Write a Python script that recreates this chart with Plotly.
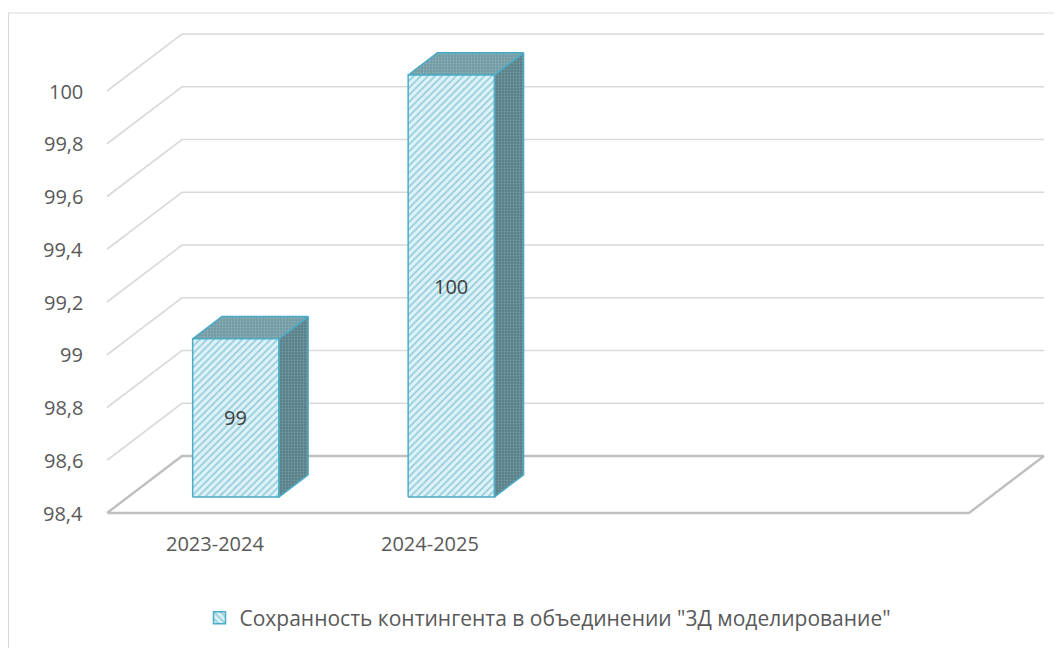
import plotly.graph_objects as go

# ---- data ----
categories = ["2023-2024", "2024-2025"]
values = [99, 100]
series_name = 'Сохранность контингента в объединении "3Д моделирование"'
tick_vals = [98.4, 98.6, 98.8, 99.0, 99.2, 99.4, 99.6, 99.8, 100.0]
tick_text = ["98,4", "98,6", "98,8", "99", "99,2", "99,4", "99,6", "99,8", "100"]
n_slots = 4  # category slots on the axis

# ---- projection settings ----
y_min = 98.4
ddx = 0.348   # depth offset in category units
ddy = 0.216   # depth offset in value units
bar_w = 0.40
f0 = 0.28     # front of bars, as fraction of depth
fd = 0.39     # depth of bars, as fraction of depth

OFF = 8  # page body margin
W, H = 1062 - OFF, 648 - OFF
fig = go.Figure()

grid_col = "#d9d9d9"
floor_col = "#bfbfbf"

# gridlines (side diagonal + back wall horizontal)
for v in tick_vals[1:]:
    fig.add_trace(go.Scatter(
        x=[0, ddx, n_slots + ddx], y=[v, v + ddy, v + ddy],
        mode="lines", line=dict(color=grid_col, width=1.6),
        hoverinfo="skip", showlegend=False))

# floor
fig.add_trace(go.Scatter(
    x=[0, n_slots, n_slots + ddx, ddx, 0],
    y=[y_min, y_min, y_min + ddy, y_min + ddy, y_min],
    mode="lines", line=dict(color=floor_col, width=2.4),
    hoverinfo="skip", showlegend=False))

edge = "#4bacc6"
front_pat = dict(shape="/", fgcolor="#4bacc6", bgcolor="#e0f2f7", size=5, solidity=0.35)
for i, (cat, v) in enumerate(zip(categories, values)):
    c = i + 0.5
    xl = c - bar_w / 2 + f0 * ddx
    xr = c + bar_w / 2 + f0 * ddx
    yb = y_min + f0 * ddy
    yt = v + f0 * ddy
    bx = fd * ddx
    by = fd * ddy
    # side face
    fig.add_trace(go.Scatter(
        x=[xr, xr + bx, xr + bx, xr, xr], y=[yb, yb + by, yt + by, yt, yb],
        mode="lines", fill="toself",
        fillpattern=dict(shape=".", fgcolor="#93b6bf", bgcolor="#5a808a", size=3, solidity=0.3),
        line=dict(color=edge, width=1.5), hoverinfo="skip", showlegend=False))
    # top face
    fig.add_trace(go.Scatter(
        x=[xl, xr, xr + bx, xl + bx, xl], y=[yt, yt, yt + by, yt + by, yt],
        mode="lines", fill="toself",
        fillpattern=dict(shape=".", fgcolor="#abc8cf", bgcolor="#719aa3", size=3, solidity=0.35),
        line=dict(color=edge, width=1.5), hoverinfo="skip", showlegend=False))
    # front face
    fig.add_trace(go.Scatter(
        x=[xl, xr, xr, xl, xl], y=[yb, yb, yt, yt, yb],
        mode="lines", fill="toself",
        fillpattern=front_pat,
        line=dict(color=edge, width=1.5), hoverinfo="skip", showlegend=False))
    # data label
    fig.add_annotation(x=c + f0 * ddx, y=(y_min + v) / 2 + f0 * ddy,
                       text=str(v), showarrow=False,
                       font=dict(family="Open Sans", size=20, color="#404040"))
    # category label
    fig.add_annotation(x=c, y=y_min, yshift=-30, text=cat, showarrow=False,
                       font=dict(family="Open Sans", size=20, color="#595959"))

# legend-only entry (square swatch)
fig.add_trace(go.Bar(x=[None], y=[None], name=series_name,
                     marker=dict(color="#e0f2f7",
                                 pattern=dict(shape="\\", fgcolor="#4bacc6", bgcolor="#e0f2f7", size=6, solidity=0.4),
                                 line=dict(color=edge, width=1.5)),
                     showlegend=True, hoverinfo="skip"))

# value axis labels
for v, t in zip(tick_vals, tick_text):
    fig.add_annotation(x=0, y=v, xshift=-22, xanchor="right", text=t, showarrow=False,
                       font=dict(family="Open Sans", size=20, color="#595959"))

# scale mapping (page px): front edge 107..969 = 0..4, 98.4 at 513px, 0.2 = 52.75px
px_per_x = (969 - 107) / n_slots
px_per_y = 52.75 / 0.2
x0_px = 107 - OFF
y0_px = 513 - OFF
x_range = [-x0_px / px_per_x, (W - x0_px) / px_per_x]
y_range = [y_min - (H - y0_px) / px_per_y, y_min + y0_px / px_per_y]

# chart area border
fig.add_shape(type="rect", xref="paper", yref="paper",
              x0=0.5 / W, x1=1.02, y0=-0.02, y1=1 - (13 - OFF) / H,
              line=dict(color="#d9d9d9", width=1.2), fillcolor="rgba(0,0,0,0)")

fig.update_layout(
    width=W, height=H,
    margin=dict(l=0, r=0, t=0, b=0),
    paper_bgcolor="white", plot_bgcolor="white",
    xaxis=dict(range=x_range, visible=False, fixedrange=True),
    yaxis=dict(range=y_range, visible=False, fixedrange=True),
    showlegend=True,
    legend=dict(orientation="h", x=(548 - OFF) / W, y=1 - (618 - OFF) / H,
                xanchor="center", yanchor="middle",
                font=dict(family="Open Sans", size=21, color="#595959"),
                bgcolor="rgba(0,0,0,0)", itemwidth=30),
)

fig.write_html("out.html")
